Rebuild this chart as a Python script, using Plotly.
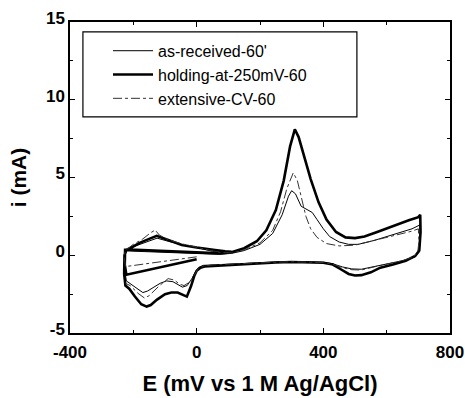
import plotly.graph_objects as go

# ---- data (E in mV, i in mA) ----
names = ["as-received-60'", "holding-at-250mV-60", "extensive-CV-60"]

E_thin = [-225, -200, -150, -100, -50, 0, 40, 70,
          110, 150, 200, 240, 270, 290, 300, 312, 330, 350, 365, 380, 400, 420, 450, 480, 510, 560, 620, 680, 705,
          706, 702, 690, 650, 600, 560, 520, 490, 460, 430, 400, 350, 300, 250, 200, 150, 100, 50, 20, 5,
          -5, -15, -30, -45, -60, -75, -95, -115, -135, -155, -170, -190, -208, -222, -227, -226, -220,
          -180, -140, -125, -90, -50, 0, 50, 90]
i_thin = [0.28, 0.26, 0.22, 0.17, 0.12, 0.08, 0.06, 0.06,
          0.12, 0.3, 0.7, 1.4, 2.6, 3.8, 4.15, 3.95, 3.15, 2.9, 2.75, 2.3, 1.7, 1.2, 0.85, 0.7, 0.7, 0.95, 1.3, 1.7, 1.95,
          1.0, 0.2, -0.1, -0.35, -0.55, -0.75, -0.9, -0.88, -0.75, -0.55, -0.45, -0.42, -0.4, -0.43, -0.48, -0.52, -0.55, -0.6, -0.65, -0.8,
          -1.1, -1.5, -1.95, -2.05, -1.9, -1.7, -1.65, -1.8, -2.05, -2.3, -2.4, -2.1, -1.85, -1.65, -1.0, 0.0, 0.4,
          0.7, 1.0, 1.1, 0.9, 0.7, 0.5, 0.25, 0.12]

E_hold = [0, -100, -222, -227, -226, -210, -150, -100, -50, 0, 40, 75,
          110, 150, 190, 220, 250, 275, 295, 310, 322, 340, 360, 385, 410, 440, 470, 500, 530, 570, 620, 670, 700, 706,
          707, 703, 690, 660, 620, 580, 550, 520, 500, 480, 455, 430, 400, 350, 300, 250, 200, 150, 100, 50, 25, 12,
          0, -8, -18, -31, -45, -60, -80, -100, -125, -145, -158, -175, -195, -213, -225, -229, -228, -222,
          -210, -180, -150, -126, -105, -75, -47, 0, 30, 58, 90, 110]
i_hold = [-0.26, -0.7, -1.25, -0.6, 0.35, 0.36, 0.3, 0.25, 0.2, 0.15, 0.12, 0.12,
          0.2, 0.45, 0.9, 1.6, 2.9, 4.8, 7.0, 8.1, 7.6, 6.3, 4.9, 3.4, 2.3, 1.5, 1.15, 1.1, 1.2, 1.5, 1.9, 2.25, 2.45, 2.6,
          1.5, 0.3, -0.05, -0.35, -0.6, -0.8, -1.1, -1.28, -1.3, -1.2, -0.9, -0.6, -0.48, -0.45, -0.43, -0.47, -0.52, -0.57, -0.6, -0.65, -0.72, -0.8,
          -1.0, -1.35, -2.0, -2.66, -2.55, -2.4, -2.4, -2.5, -2.85, -3.2, -3.3, -3.15, -2.65, -2.15, -1.95, -1.2, 0.0, 0.35,
          0.45, 0.8, 1.05, 1.25, 1.1, 0.85, 0.66, 0.5, 0.4, 0.34, 0.25, 0.22]

E_ext = [0, -100, -225, -228, -226, -200, -170, -145, -131, -118, -90, -50, 0, 40, 75,
         110, 150, 200, 240, 265, 285, 305, 318, 330, 345, 360, 380, 410, 450, 500, 560, 620, 680, 700,
         702, 698, 685, 650, 600, 560, 520, 490, 460, 430, 400, 350, 300, 250, 200, 150, 100, 50, 20, 5,
         -5, -20, -40, -55, -70, -90, -120, -150, -165, -185, -210, -225]
i_ext = [-0.1, -0.4, -0.73, -0.2, 0.3, 0.7, 1.05, 1.45, 1.62, 1.3, 1.0, 0.75, 0.5, 0.33, 0.18,
         0.15, 0.35, 0.8, 1.6, 2.8, 4.3, 5.3, 4.8, 3.8, 2.5, 1.7, 1.15, 0.75, 0.6, 0.65, 0.95, 1.25, 1.55, 1.7,
         0.9, 0.2, -0.1, -0.35, -0.55, -0.75, -0.95, -0.93, -0.8, -0.58, -0.47, -0.44, -0.42, -0.45, -0.5, -0.54, -0.57, -0.62, -0.7, -0.85,
         -1.2, -1.7, -1.95, -1.85, -1.6, -1.5, -2.0, -2.6, -2.75, -2.45, -1.95, -1.8]

x_ticks = [-400, 0, 400, 800]
y_ticks = [-5, 0, 5, 10, 15]

fig = go.Figure()
fig.add_trace(go.Scatter(x=E_thin, y=i_thin, mode="lines", name=names[0],
                         line=dict(color="black", width=1)))
fig.add_trace(go.Scatter(x=E_hold, y=i_hold, mode="lines", name=names[1],
                         line=dict(color="black", width=2.6)))
fig.add_trace(go.Scatter(x=E_ext, y=i_ext, mode="lines", name=names[2],
                         line=dict(color="#333333", width=1, dash="dashdot")))

axis_common = dict(showgrid=False, zeroline=False, showline=True, linecolor="black", linewidth=1.5,
                   mirror="ticks", ticks="inside", ticklen=5, tickwidth=1, tickcolor="black",
                   automargin=False,
                   tickfont=dict(family="Liberation Sans", size=17, color="black", weight="bold"),
                   minor=dict(ticks="inside", ticklen=3, tickcolor="black", tickwidth=1))

fig.update_xaxes(range=[-400, 800], tickvals=x_ticks, ticktext=[str(v) for v in x_ticks],
                 ticklabelstandoff=3,
                 title=dict(text="E (mV vs 1 M Ag/AgCl)", standoff=14,
                            font=dict(family="Liberation Sans", size=22, color="black", weight="bold")),
                 **axis_common)
fig.update_xaxes(minor=dict(tickvals=[-200, 200, 600]))
fig.update_yaxes(range=[-5, 15], tickvals=y_ticks, ticktext=[str(v) for v in y_ticks],
                 ticklabelshift=-4,
                 title=dict(text="i (mA)", standoff=14,
                            font=dict(family="Liberation Sans", size=21, color="black", weight="bold")),
                 **axis_common)
fig.update_yaxes(minor=dict(tickvals=[-2.5, 2.5, 7.5, 12.5]))

fig.update_layout(
    width=465, height=398,
    margin=dict(l=70, r=15, t=22, b=65),
    paper_bgcolor="white", plot_bgcolor="white",
    showlegend=True,
    legend=dict(x=0.1, y=0.962, xanchor="left", yanchor="top", bgcolor="rgba(0,0,0,0)",
                borderwidth=0, font=dict(family="Liberation Sans", size=16, color="black"),
                tracegroupgap=0, itemwidth=40),
    shapes=[dict(type="rect", xref="paper", yref="paper", x0=0.034, x1=0.755, y0=0.695, y1=0.968,
                 line=dict(color="black", width=1.2), fillcolor="rgba(0,0,0,0)")],
)

fig.write_html("out.html", config={"displayModeBar": False},
               post_script="document.body.style.margin='0px';")
